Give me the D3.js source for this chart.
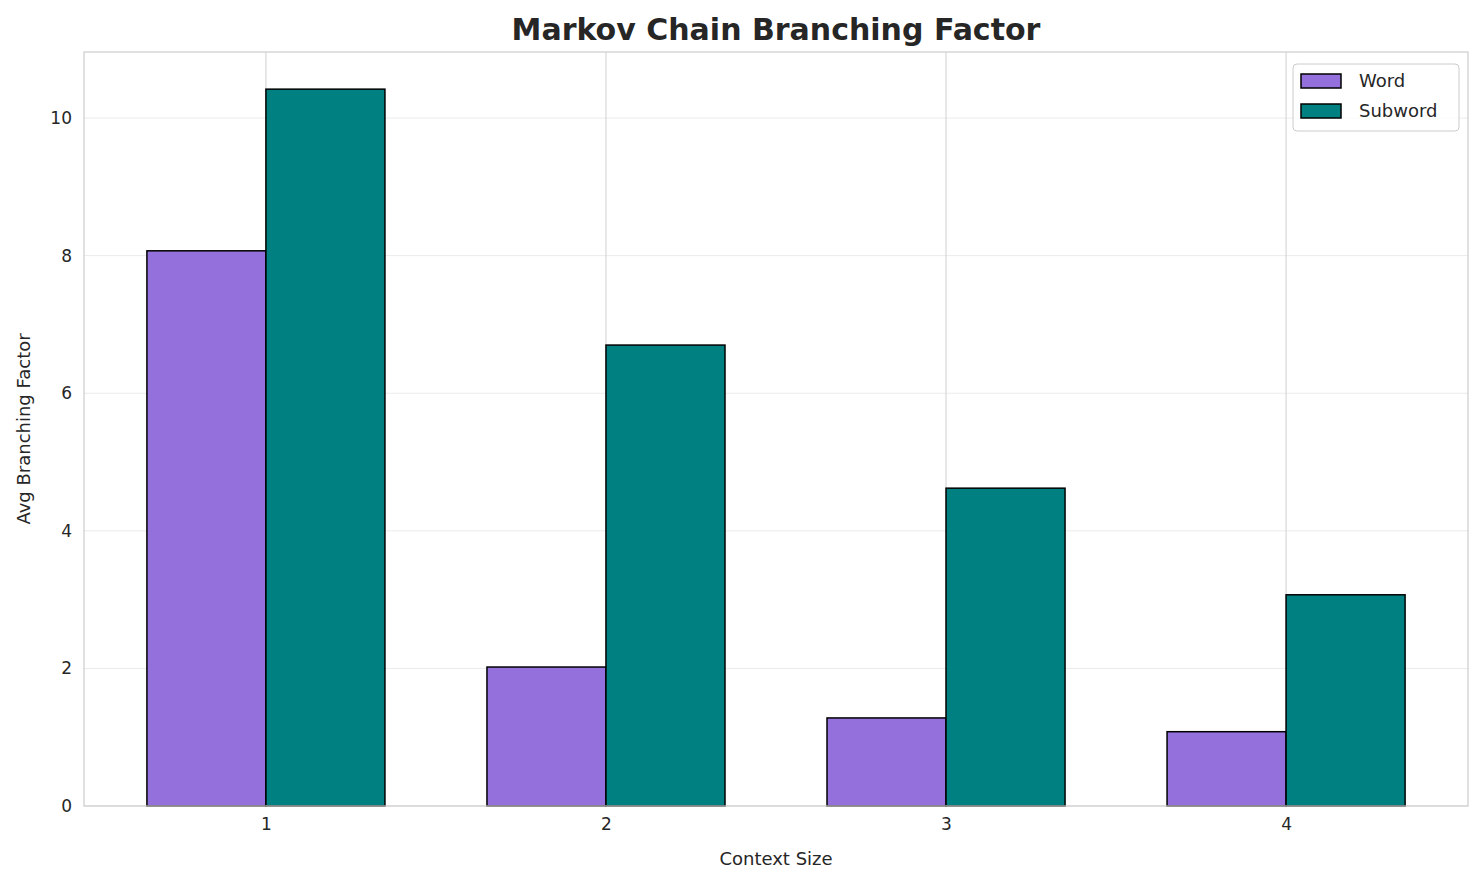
<!DOCTYPE html>
<html>
<head>
<meta charset="utf-8">
<script src="https://cdn.jsdelivr.net/npm/d3@7"></script>
<style>
body { margin: 0; background: #fff; }
text { font-family: "DejaVu Sans", sans-serif; fill: #262626; }
</style>
</head>
<body>
<div id="graph"></div>
<script>
// chart values
var contexts = [1, 2, 3, 4];
var wordValues = [8.07, 2.02, 1.28, 1.08];
var subwordValues = [10.42, 6.70, 4.62, 3.07];
var yTicks = [0, 2, 4, 6, 8, 10];
var seriesNames = ["Word", "Subword"];
var seriesColors = ["#9370db", "#008080"];

var margin = { top: 52, right: 16, bottom: 79, left: 84 },
    width = 1484 - margin.left - margin.right,
    height = 885 - margin.top - margin.bottom;

var svg = d3.select("#graph").append("svg")
    .attr("width", 1484).attr("height", 885);

var g = svg.append("g")
    .attr("transform", "translate(" + margin.left + "," + margin.top + ")");

var barW = 0.35;
var x = d3.scaleLinear().domain([0.465, 4.535]).range([0, width]);
var y = d3.scaleLinear().domain([0, 10.96]).range([height, 0]);

// grid
g.selectAll(".hgrid").data(yTicks).enter().append("line")
    .attr("x1", 0).attr("x2", width)
    .attr("y1", function(d) { return y(d); }).attr("y2", function(d) { return y(d); })
    .style("stroke", "#ebebeb").style("stroke-width", 1);
g.selectAll(".vgrid").data(contexts).enter().append("line")
    .attr("y1", 0).attr("y2", height)
    .attr("x1", function(d) { return x(d); }).attr("x2", function(d) { return x(d); })
    .style("stroke", "#d0d0d0").style("stroke-width", 1);

// bars
var series = [wordValues, subwordValues];
series.forEach(function(vals, s) {
    g.selectAll(".bar" + s).data(vals).enter().append("rect")
        .attr("x", function(d, i) { return x(contexts[i] - barW + s * barW); })
        .attr("width", x(barW) - x(0))
        .attr("y", function(d) { return y(d); })
        .attr("height", function(d) { return y(0) - y(d); })
        .style("fill", seriesColors[s])
        .style("stroke", "#000").style("stroke-width", 1.5);
});

// frame
g.append("rect").attr("width", width).attr("height", height)
    .style("fill", "none").style("stroke", "#cccccc").style("stroke-width", 1.2);

// axes
var xAxis = g.append("g").attr("transform", "translate(0," + height + ")")
    .call(d3.axisBottom(x).tickValues(contexts).tickFormat(d3.format("d")).tickSize(0).tickPadding(12));
var yAxis = g.append("g")
    .call(d3.axisLeft(y).tickValues(yTicks).tickSize(0).tickPadding(12));
[xAxis, yAxis].forEach(function(a) {
    a.select(".domain").remove();
    a.selectAll("text").style("font-size", "17px").style("font-family", "DejaVu Sans").attr("fill", "#262626");
});

// labels
svg.append("text").attr("x", margin.left + width / 2).attr("y", 865)
    .style("text-anchor", "middle").style("font-size", "18px").text("Context Size");
svg.append("text").attr("transform", "rotate(-90)")
    .attr("x", -(margin.top + height / 2)).attr("y", 30)
    .style("text-anchor", "middle").style("font-size", "18px").text("Avg Branching Factor");
svg.append("text").attr("x", margin.left + width / 2).attr("y", 40)
    .style("text-anchor", "middle").style("font-size", "30px").style("font-weight", "bold")
    .text("Markov Chain Branching Factor");

// legend
var lg = svg.append("g").attr("transform", "translate(1293,64)");
lg.append("rect").attr("width", 166).attr("height", 67).attr("rx", 4)
    .style("fill", "#fff").style("fill-opacity", 0.8).style("stroke", "#cccccc");
seriesNames.forEach(function(n, i) {
    lg.append("rect").attr("x", 8).attr("y", 10 + i * 30).attr("width", 40).attr("height", 14)
        .style("fill", seriesColors[i]).style("stroke", "#000").style("stroke-width", 1.5);
    lg.append("text").attr("x", 66).attr("y", 23 + i * 30).style("font-size", "18px").text(n);
});
</script>
</body>
</html>
